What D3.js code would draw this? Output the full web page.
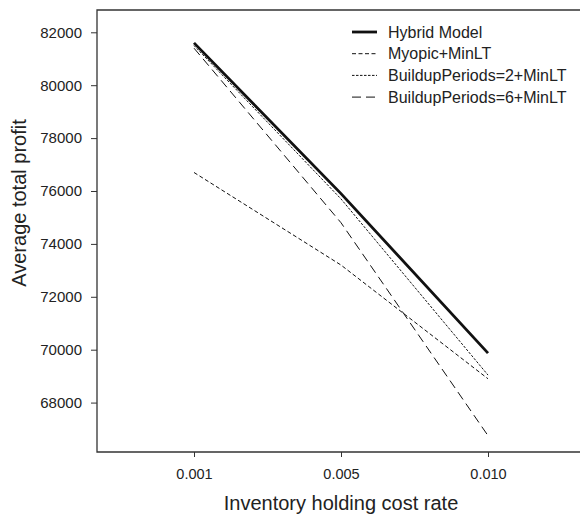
<!DOCTYPE html>
<html>
<head>
<meta charset="utf-8">
<script src="https://d3js.org/d3.v7.min.js"></script>
<style>
  body { margin: 0; background: #fff; }
  text { font-family: "Liberation Sans", Arial, sans-serif; fill: #222; }
</style>
</head>
<body>
<svg width="581" height="516"></svg>
<script>
// data
var rates = ["0.001", "0.005", "0.010"];
var hybrid = [81600, 75900, 69870];
var myopic = [76700, 73200, 68900];
var buildup2 = [81500, 75700, 69040];
var buildup6 = [81400, 74800, 66750];
var yTicks = [68000, 70000, 72000, 74000, 76000, 78000, 80000, 82000];

var seriesNames = ["Hybrid Model", "Myopic+MinLT", "BuildupPeriods=2+MinLT", "BuildupPeriods=6+MinLT"];
var seriesValues = [hybrid, myopic, buildup2, buildup6];
var widths = [2.8, 1, 1, 1];
var dashes = [null, "4,2.5", "2.5,1.5", "9,5"];

var svg = d3.select("svg");
var plotL = 97, plotT = 10, plotR = 580, plotB = 452;

var x = d3.scalePoint().domain(rates).range([194, 488]);
var y = d3.scaleLinear().domain([66132, 82843]).range([plotB, plotT]);

// frame
svg.append("path")
  .attr("d", "M" + plotR + "," + plotT + "H" + plotL + "V" + plotB + "H" + plotR)
  .attr("fill", "none").attr("stroke", "#333").attr("stroke-width", 1.3);

var xAxis = svg.append("g")
  .attr("transform", "translate(0," + plotB + ")")
  .call(d3.axisBottom(x).tickSize(5).tickPadding(12));
xAxis.select(".domain").remove();
xAxis.selectAll("line").attr("stroke", "#333");
xAxis.selectAll("text").style("font-size", "14.5px").attr("fill", "#222");

var yAxis = svg.append("g")
  .attr("transform", "translate(" + plotL + ",0)")
  .call(d3.axisLeft(y).tickValues(yTicks).tickFormat(d3.format("d")).tickSize(6).tickPadding(9));
yAxis.select(".domain").remove();
yAxis.selectAll("line").attr("stroke", "#333");
yAxis.selectAll("text").style("font-size", "15px").attr("fill", "#222");

svg.append("text")
  .attr("x", 341).attr("y", 510)
  .attr("text-anchor", "middle")
  .style("font-size", "20px")
  .text("Inventory holding cost rate");

svg.append("text")
  .attr("transform", "translate(26,203) rotate(-90)")
  .attr("text-anchor", "middle")
  .style("font-size", "20px")
  .text("Average total profit");

var line = d3.line()
  .x(function(d, i) { return x(rates[i]); })
  .y(function(d) { return y(d); });

// draw thin lines first, hybrid on top
[3, 2, 1, 0].forEach(function(k) {
  svg.append("path")
    .datum(seriesValues[k])
    .attr("d", line)
    .attr("fill", "none")
    .attr("stroke", "#111")
    .attr("stroke-width", widths[k])
    .attr("stroke-dasharray", dashes[k]);
});

// legend
var lg = svg.append("g").attr("transform", "translate(352,32)");
seriesNames.forEach(function(name, i) {
  lg.append("line")
    .attr("x1", 0).attr("x2", 25)
    .attr("y1", i * 21.7).attr("y2", i * 21.7)
    .attr("stroke", "#111")
    .attr("stroke-width", widths[i])
    .attr("stroke-dasharray", dashes[i]);
  lg.append("text")
    .attr("x", 36).attr("y", i * 21.7 + 5.5)
    .style("font-size", "16px")
    .text(name);
});
</script>
</body>
</html>
